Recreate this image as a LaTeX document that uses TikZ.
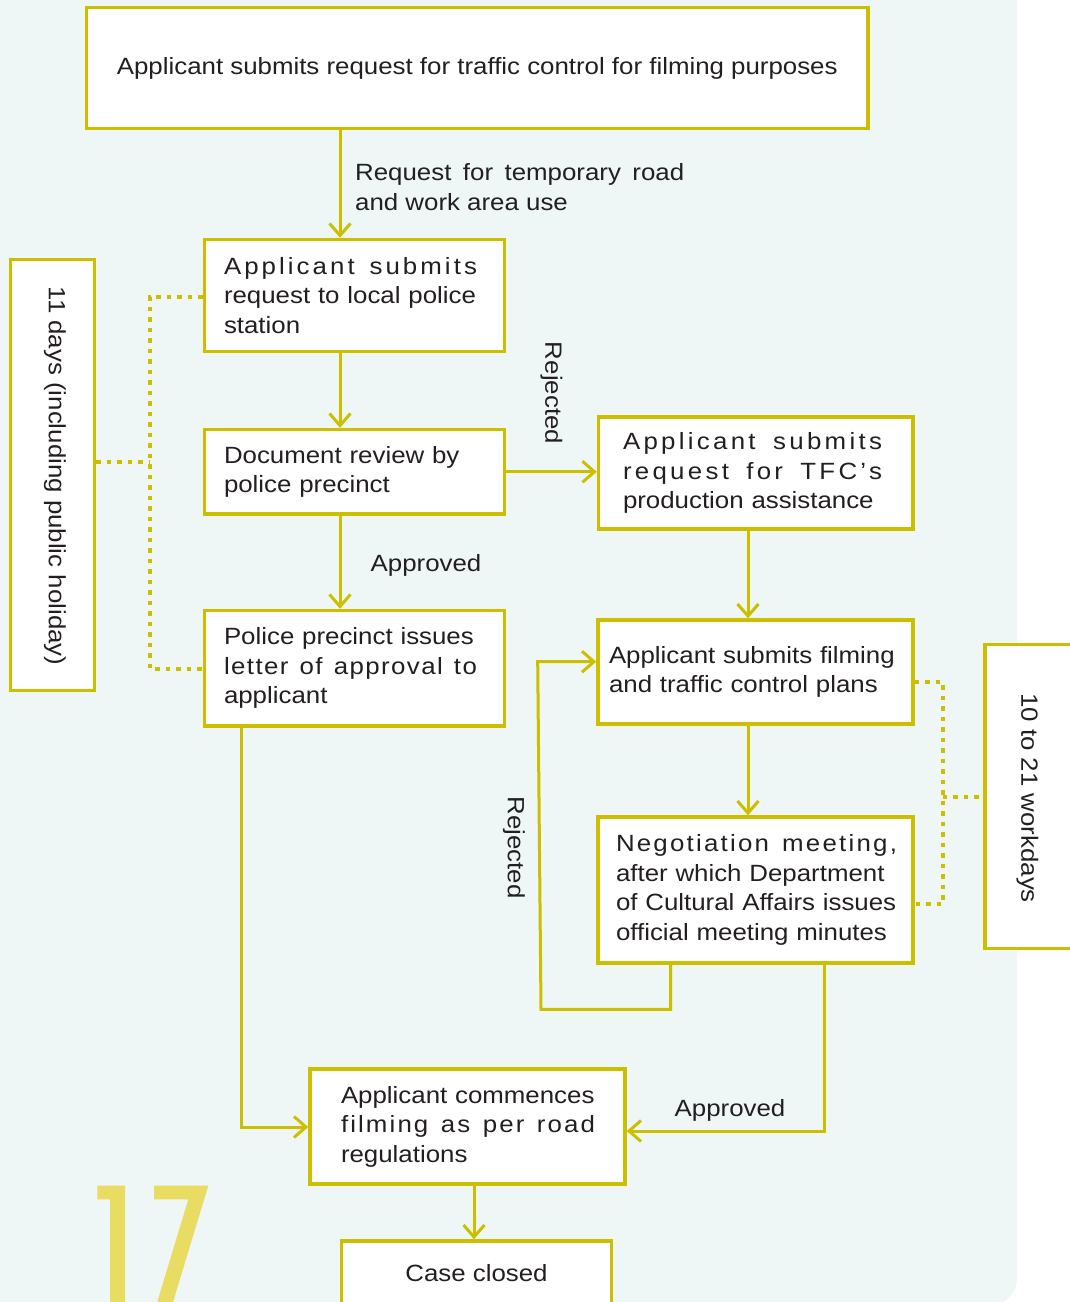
\documentclass[tikz,border=0pt]{standalone}
\usepackage{fontspec}
\setmainfont{Liberation Sans}[FakeStretch=1.1]
\usetikzlibrary{arrows.meta,calc}

\definecolor{lineyellow}{HTML}{CCBF00}
\definecolor{bgblue}{HTML}{EEF6F6}
\definecolor{numyellow}{HTML}{E9DC62}
\definecolor{ink}{HTML}{231F20}

% justified line, and justified line with letter spacing
\newcommand\jline[2]{\makebox[#1pt][s]{#2}}
\newcommand\gap{\hspace{0.25em plus 1fill}}
\newcommand\sline[3]{\makebox[#1pt][s]{\addfontfeature{LetterSpace=#2}#3}}

\tikzset{
  stepbox/.style={draw=lineyellow, line width=3.5pt, fill=white, inner sep=0pt, align=left},
  conn/.style={draw=lineyellow, line width=3pt},
  arr/.style={conn, -{Straight Barb[length=12pt,width=21pt]}},
  dotline/.style={draw=lineyellow, line width=4pt, dash pattern=on 4.5pt off 6pt},
  lbl/.style={inner sep=0pt, align=left},
}

\begin{document}
\begin{tikzpicture}[x=1pt, y=-1pt, font=\fontsize{23.5}{29.5}\selectfont, text=ink]
\useasboundingbox (0,0) rectangle (1070,1302);
\clip (0,0) rectangle (1070,1302);

% page background with its rounded lower right corner
\fill[bgblue, rounded corners=28pt] (-60,-60) rectangle (1017,1306);

% large page number
\fill[numyellow] (97.3,1185.7) -- (125,1185.7) -- (125,1320) -- (110,1320) -- (110,1199.3) -- (97.3,1199.3) -- cycle;
\fill[numyellow] (154,1185.7) -- (208.3,1185.7) -- (167.5,1320) -- (151.8,1320) -- (188.3,1199.3) -- (154,1199.3) -- cycle;

% process boxes
\node[stepbox, align=center, minimum width=781.5pt, minimum height=121pt] (top) at (477.25,68)
  {Applicant submits request for traffic control for filming purposes};

\node[stepbox, text width=261pt, minimum width=300pt, minimum height=112pt] (A) at (354.5,295.5)
  {\sline{253}{13}{Applicant\gap submits}\\\jline{252}{request to local police}\\station};

\node[stepbox, text width=265.5pt, minimum width=314.5pt, minimum height=112pt] (C) at (755.75,473)
  {\sline{259}{14}{Applicant\gap submits}\\\sline{259}{14}{request\gap for\gap TFC’s}\\production assistance};

\node[stepbox, text width=261pt, minimum width=300pt, minimum height=84.5pt] (B) at (354.5,471.75)
  {Document review by\\police precinct};

\node[stepbox, text width=261pt, minimum width=300pt, minimum height=115.5pt] (D) at (354.5,668.25)
  {\jline{252}{Police precinct issues}\\\sline{253}{6}{letter\gap of\gap approval\gap to}\\applicant};

\node[stepbox, text width=293pt, minimum width=315pt, minimum height=104pt] (E) at (755.5,672)
  {\jline{294}{Applicant submits filming}\\and traffic control plans};

\node[stepbox, text width=279pt, minimum width=315pt, minimum height=146pt] (F) at (755.5,890)
  {\sline{281}{9.5}{Negotiation\gap meeting,}\\\jline{279}{after which Department}\\\jline{279}{of Cultural Affairs issues}\\official meeting minutes};

\node[stepbox, text width=253pt, minimum width=315pt, minimum height=115pt] (G) at (467.5,1126.5)
  {\jline{252}{Applicant commences}\\\sline{254}{9}{filming\gap as\gap per\gap road}\\regulations};

\node[stepbox, align=center, minimum width=270pt, minimum height=65pt] (H) at (476.5,1273.5)
  {Case closed};

% duration boxes
\node[stepbox, minimum width=84pt, minimum height=431pt] (L) at (52.5,475) {};
\node[lbl, rotate=-90] (Ltext) at (55,476) {11 days (including public holiday)};
\node[stepbox, minimum width=87pt, minimum height=304pt] (R) at (1028.5,796.5) {};
\node[lbl, rotate=-90] (Rtext) at (1027.5,798) {10 to 21 workdays};

% connector turning points
\coordinate (xa) at (340,0);
\coordinate (xc) at (748,0);
\coordinate (xg) at (474,0);
\coordinate (r1) at (670.7,1009.3);
\coordinate (r2) at (541,1009.3);
\coordinate (r3) at (537.7,661.7);
\coordinate (p1) at (824,1131);
\coordinate (d1) at (241,1127);

% flow
\draw[arr] (top.south -| xa) -- (A.north -| xa);
\draw[arr] (A.south -| xa) -- (B.north -| xa);
\draw[arr] (B.south -| xa) -- (D.north -| xa);
\draw[arr] (B.east) -- (B.east -| C.west);
\draw[arr] (C.south -| xc) -- (E.north -| xc);
\draw[arr] (E.south -| xc) -- (F.north -| xc);
\draw[arr] (F.south -| r1) -- (r1) -- (r2) -- (r3) -- (r3 -| E.west);
\draw[arr] (F.south -| p1) -- (p1) -- (p1 -| G.east);
\draw[arr] (D.south -| d1) -- (d1) -- (d1 -| G.west);
\draw[arr] (G.south -| xg) -- (H.north -| xg);

% connector labels
\node[lbl, anchor=west] (req) at (355,187) {\jline{329}{Request for temporary road}\\and work area use};
\node[lbl] (ok1) at (426,565) {Approved};
\node[lbl] (ok2) at (730,1110) {Approved};
\node[lbl, rotate=-90] (no1) at (551.5,393) {Rejected};
\node[lbl, rotate=-90] (no2) at (514,847.5) {Rejected};

% duration brackets
\coordinate (la) at (150,296.7);
\coordinate (lb) at (150,669.3);
\coordinate (lm) at (150,461.7);
\draw[dotline] (A.west |- la) -- (la) -- (lb) -- (D.west |- lb);
\draw[dotline] (L.east |- lm) -- (lm);

\coordinate (ra) at (942.7,681.7);
\coordinate (rb) at (942.7,904.3);
\coordinate (rm) at (942.7,796.7);
\draw[dotline] (E.east |- ra) -- (ra) -- (rb) -- (F.east |- rb);
\draw[dotline] (rm) -- (rm -| R.west);
\end{tikzpicture}
\end{document}
